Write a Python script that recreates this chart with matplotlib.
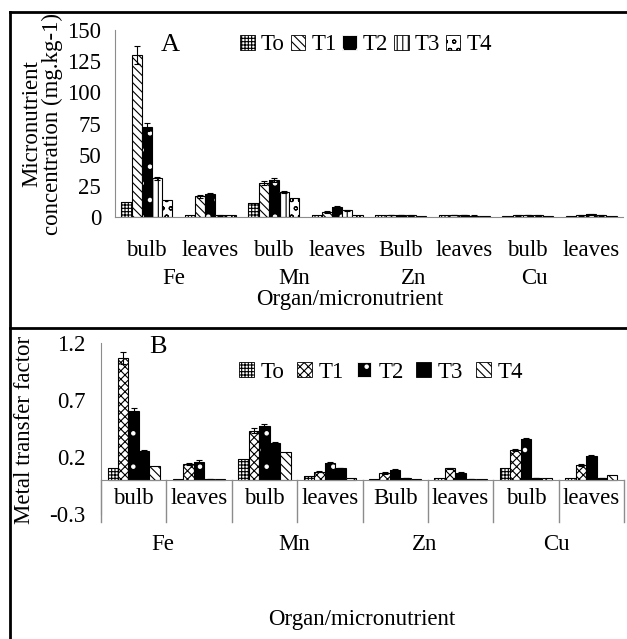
import matplotlib
matplotlib.use("Agg")
import matplotlib.pyplot as plt
from matplotlib.patches import Patch
from matplotlib.lines import Line2D
import numpy as np

plt.rcParams["font.family"] = ["Liberation Serif", "DejaVu Serif"]
plt.rcParams["hatch.linewidth"] = 0.8

# data
organs = ["bulb", "leaves", "bulb", "leaves", "Bulb", "leaves", "bulb", "leaves"]
elements = ["Fe", "Mn", "Zn", "Cu"]
treatments = ["To", "T1", "T2", "T3", "T4"]

# panel A: micronutrient concentration (mg/kg)
conc_To = [12, 2.0, 11, 1.5, 1.3, 1.3, 1.2, 1.2]
conc_T1 = [130, 16.5, 27, 4.0, 1.6, 1.8, 1.4, 1.4]
conc_T2 = [72, 18.5, 29.5, 8.0, 1.7, 1.5, 1.5, 2.2]
conc_T3 = [31, 1.5, 20, 5.5, 1.3, 1.2, 1.3, 1.3]
conc_T4 = [14, 1.5, 15, 1.5, 1.2, 1.2, 1.2, 1.2]
conc_err_T1 = [7, 1, 1.5, 0.5, 0.2, 0.2, 0.2, 0.2]
conc_err_T2 = [3, 1, 1.5, 0.5, 0.2, 0.2, 0.2, 0.2]
conc_err_T3 = [1, 0.3, 0.8, 0.3, 0.1, 0.1, 0.1, 0.1]

# panel B: metal transfer factor
mtf_To = [0.10, 0.01, 0.18, 0.03, 0.01, 0.02, 0.10, 0.02]
mtf_T1 = [1.07, 0.14, 0.43, 0.07, 0.06, 0.10, 0.26, 0.13]
mtf_T2 = [0.60, 0.16, 0.47, 0.15, 0.09, 0.06, 0.36, 0.21]
mtf_T3 = [0.25, 0.01, 0.32, 0.10, 0.02, 0.01, 0.02, 0.02]
mtf_T4 = [0.12, 0.01, 0.24, 0.02, 0.01, 0.01, 0.02, 0.04]
mtf_err_T1 = [0.05, 0.01, 0.02, 0.005, 0.005, 0.005, 0.01, 0.005]
mtf_err_T2 = [0.03, 0.01, 0.02, 0.005, 0.005, 0.005, 0.01, 0.005]
mtf_err_T3 = [0.01, 0.0, 0.01, 0.0, 0.0, 0.0, 0.0, 0.0]

W, H = 627, 639
fig = plt.figure(figsize=(W / 100, H / 100), dpi=100)


def fx(px):
    return px / W


def fy(py):
    return 1 - py / H


GRAY = "#8c8c8c"
BW = 0.16


# style: (face, hatch, hatch colour) -- black bars with white dots need two layers
STYLE_A = [
    ("white", "+++++", "black"),
    ("white", "\\\\\\\\", "black"),
    ("black", ".", "white"),
    ("white", "|||", "black"),
    ("white", "oo", "black"),
]
STYLE_B = [
    ("white", "+++++", "black"),
    ("white", "xxxx", "black"),
    ("black", ".", "white"),
    ("black", "", "black"),
    ("white", "\\\\\\\\", "black"),
]


def draw_bars(ax, series, errs, styles):
    x = np.arange(len(organs))
    for i, vals in enumerate(series):
        pos = x + (i - 2) * BW
        face, hatch, hcol = styles[i]
        ax.bar(pos, vals, BW, color=face, edgecolor=hcol, hatch=hatch, linewidth=0)
        ax.bar(pos, vals, BW, fill=False, edgecolor="black", linewidth=0.8)
        if errs[i] is not None:
            ax.errorbar(pos, vals, yerr=errs[i], fmt="none", ecolor="black",
                        elinewidth=0.8, capsize=2.5, capthick=0.8)


def legend_handles(styles):
    return [Patch(facecolor=f, edgecolor=h if f == "black" else "black", hatch=p,
                  linewidth=0.6) for f, p, h in styles]


FS = 16.5

# ---- panel A ----
axA = fig.add_axes([fx(115), fy(217), fx(623 - 115), (217 - 30) / H])
draw_bars(axA, [conc_To, conc_T1, conc_T2, conc_T3, conc_T4],
          [None, conc_err_T1, conc_err_T2, conc_err_T3, None], STYLE_A)
axA.set_xlim(-0.5, 7.5)
axA.set_ylim(0, 150)
axA.set_yticks([0, 25, 50, 75, 100, 125, 150])
axA.tick_params(axis="y", length=0, labelsize=FS, pad=10)
axA.set_xticks([])
for s in ["top", "right"]:
    axA.spines[s].set_visible(False)
axA.spines["left"].set_color(GRAY)
axA.spines["bottom"].set_color(GRAY)
for i, o in enumerate(organs):
    axA.text(i, -26.5, o, ha="center", va="center", fontsize=FS, clip_on=False)
for j, e in enumerate(elements):
    fig.text(fx(174 + j * 120), fy(278), e, ha="center", va="center", fontsize=FS)
fig.text(fx(350), fy(300), "Organ/micronutrient", ha="center", va="center", fontsize=FS)
fig.text(fx(42), fy(124), "Micronutrient\nconcentration (mg.kg-1)", rotation=90,
         ha="center", va="center", fontsize=FS, linespacing=1.0)
fig.text(fx(170), fy(45), "A", ha="center", va="center", fontsize=19)
fig.legend(legend_handles(STYLE_A), treatments, loc="center",
           bbox_to_anchor=(fx(366), fy(45)), ncol=5, frameon=False, fontsize=FS,
           handlelength=0.65, handleheight=0.65, handletextpad=0.25,
           columnspacing=0.25, borderpad=0)

# ---- panel B ----
axB = fig.add_axes([fx(101), fy(514), fx(624 - 101), (514 - 343) / H])
draw_bars(axB, [mtf_To, mtf_T1, mtf_T2, mtf_T3, mtf_T4],
          [None, mtf_err_T1, mtf_err_T2, mtf_err_T3, None], STYLE_B)
axB.set_xlim(-0.5, 7.5)
axB.set_ylim(-0.3, 1.2)
axB.set_yticks([-0.3, 0.2, 0.7, 1.2])
axB.set_yticklabels(["-0.3", "0.2", "0.7", "1.2"])
axB.tick_params(axis="y", length=0, labelsize=FS, pad=11)
axB.set_xticks([])
for s in ["top", "right"]:
    axB.spines[s].set_visible(False)
axB.spines["left"].set_color(GRAY)
axB.spines["bottom"].set_color(GRAY)
axB.spines["bottom"].set_position(("data", 0))
for k in range(len(organs) + 1):
    axB.plot([k - 0.5, k - 0.5], [0, -0.37], color=GRAY, lw=1, clip_on=False)
for i, o in enumerate(organs):
    axB.text(i, -0.165, o, ha="center", va="center", fontsize=FS, clip_on=False)
for j, e in enumerate(elements):
    fig.text(fx(163 + j * 131), fy(545), e, ha="center", va="center", fontsize=FS)
fig.text(fx(362), fy(620), "Organ/micronutrient", ha="center", va="center", fontsize=FS)
fig.text(fx(25), fy(430), "Metal transfer factor", rotation=90,
         ha="center", va="center", fontsize=FS)
fig.text(fx(158), fy(347), "B", ha="center", va="center", fontsize=19)
fig.legend(legend_handles(STYLE_B), treatments, loc="center",
           bbox_to_anchor=(fx(381), fy(372)), ncol=5, frameon=False, fontsize=FS,
           handlelength=0.65, handleheight=0.65, handletextpad=0.3,
           columnspacing=0.55, borderpad=0)

# outer frame lines
for xs, ys in [([10, 627], [12, 12]), ([10, 10], [12, 639]), ([10, 627], [328, 328])]:
    fig.add_artist(Line2D([fx(v) for v in xs], [fy(v) for v in ys],
                          color="black", lw=2, transform=fig.transFigure))

fig.savefig("out.png", dpi=100)
